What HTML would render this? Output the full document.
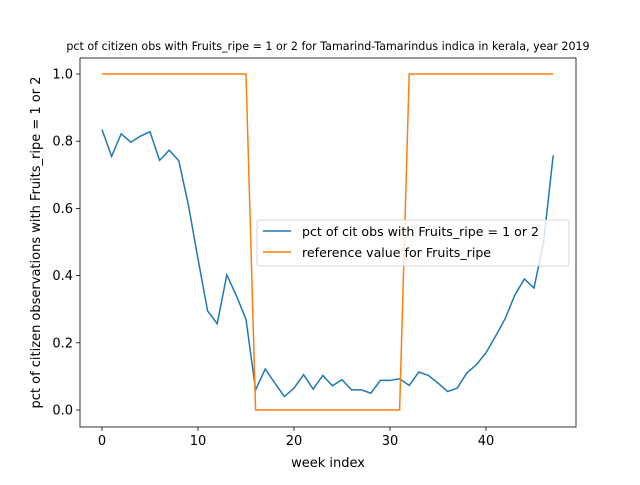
<!DOCTYPE html>
<html><head><meta charset="utf-8"><style>
body{margin:0;background:#fff;font-family:"Liberation Sans","DejaVu Sans",sans-serif}
</style></head><body>
<svg id="c" width="640" height="480" xmlns="http://www.w3.org/2000/svg" font-family="DejaVu Sans, Liberation Sans, sans-serif"></svg>
<script>
const weeks=[...Array(48).keys()];
const citizenPct=[0.835,0.755,0.822,0.797,0.815,0.828,0.743,0.773,0.742,0.61,0.45,0.295,0.257,0.402,0.34,0.27,0.06,0.122,0.08,0.04,0.065,0.105,0.062,0.103,0.072,0.09,0.06,0.06,0.05,0.088,0.088,0.093,0.073,0.113,0.103,0.08,0.055,0.065,0.11,0.135,0.17,0.22,0.272,0.342,0.39,0.363,0.5,0.758];
const refValue=[1,1,1,1,1,1,1,1,1,1,1,1,1,1,1,1,0,0,0,0,0,0,0,0,0,0,0,0,0,0,0,0,1,1,1,1,1,1,1,1,1,1,1,1,1,1,1,1];
const xTicks=[0,10,20,30,40];
const yTicks=[0,0.2,0.4,0.6,0.8,1.0];
const L=80,R=576,T=58,B=427;
const X=v=>102+v*9.6, Y=v=>410-v*336;
const svg=document.getElementById('c');const NS='http://www.w3.org/2000/svg';
function mk(t,a,txt){const e=document.createElementNS(NS,t);for(const k in a)e.setAttribute(k,a[k]);if(txt!==undefined)e.textContent=txt;svg.appendChild(e);return e;}
let e;
e=mk('text',{x:328,y:50,'font-size':'11.1','text-anchor':'middle'},'pct of citizen obs with Fruits_ripe = 1 or 2 for Tamarind-Tamarindus indica in kerala, year 2019');

xTicks.forEach(t=>{mk('line',{x1:X(t),x2:X(t),y1:B,y2:B+4,stroke:'#000','stroke-width':0.8});
e=mk('text',{x:X(t),y:B+18,'font-size':'13','text-anchor':'middle'},String(t));
});
yTicks.forEach(t=>{mk('line',{x1:L-4,x2:L,y1:Y(t),y2:Y(t),stroke:'#000','stroke-width':0.8});
e=mk('text',{x:L-7,y:Y(t)+4.5,'font-size':'13','text-anchor':'end'},t.toFixed(1));
});
e=mk('text',{x:328,y:467,'font-size':'13','text-anchor':'middle'},'week index');

e=mk('text',{x:0,y:0,'font-size':'13','text-anchor':'middle',transform:`translate(40,${(T+B)/2}) rotate(-90)`},'pct of citizen observations with Fruits_ripe = 1 or 2');

e=mk('polyline',{points:weeks.map((w,i)=>X(w)+','+Y(citizenPct[i])).join(' '),fill:'none',stroke:'#1f77b4','stroke-width':1.5});

e=mk('polyline',{points:weeks.map((w,i)=>X(w)+','+Y(refValue[i])).join(' '),fill:'none',stroke:'#ff7f0e','stroke-width':1.5});

e=mk('rect',{x:L,y:T,width:R-L,height:B-T,fill:'none',stroke:'#000','stroke-width':0.8});

e=mk('rect',{x:257,y:220,width:312,height:46,rx:2,fill:'#fff','fill-opacity':0.8,stroke:'#ccc','stroke-width':0.8});

mk('line',{x1:263,x2:291,y1:231,y2:231,stroke:'#1f77b4','stroke-width':1.5});
e=mk('text',{x:302,y:236,'font-size':'12.6'},'pct of cit obs with Fruits_ripe = 1 or 2');

mk('line',{x1:263,x2:291,y1:252,y2:252,stroke:'#ff7f0e','stroke-width':1.5});
e=mk('text',{x:302,y:257,'font-size':'12.6'},'reference value for Fruits_ripe');

</script>
</body></html>
